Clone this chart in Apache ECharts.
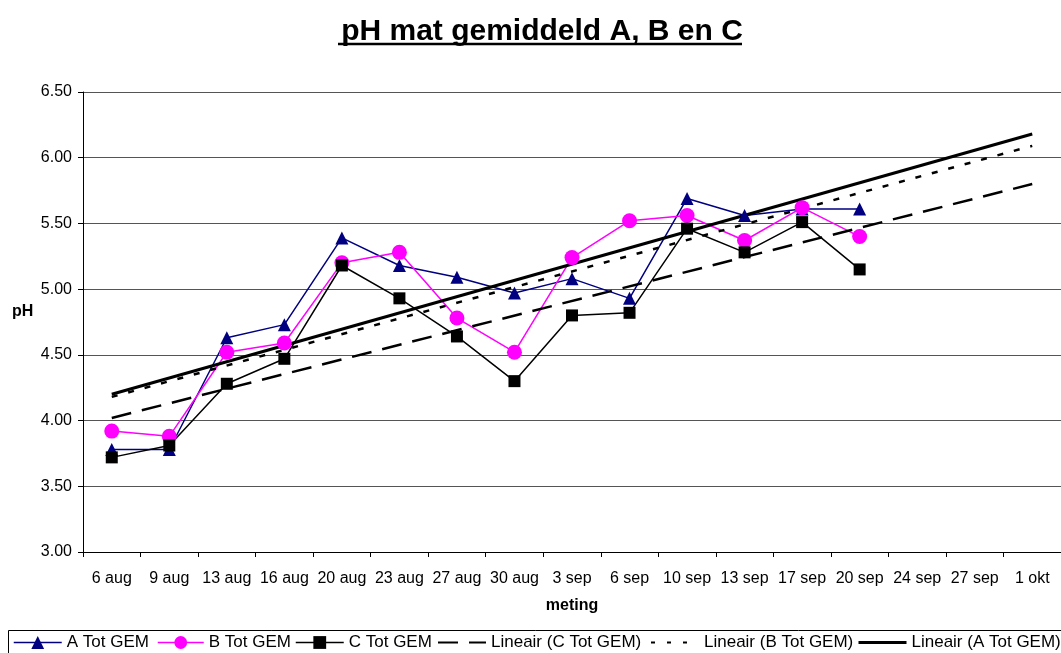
<!DOCTYPE html>
<html>
<head>
<meta charset="utf-8">
<script src="https://cdn.jsdelivr.net/npm/echarts@6/dist/echarts.min.js"></script>
<style>
  html, body { margin: 0; padding: 0; background: #fff; }
  #chart { width: 1061px; height: 653px; }
</style>
</head>
<body>
<div id="chart"></div>
<script>
// Measurement dates (category axis); the last three carry only the trend forecast
const categories = ['6 aug', '9 aug', '13 aug', '16 aug', '20 aug', '23 aug', '27 aug',
  '30 aug', '3 sep', '6 sep', '10 sep', '13 sep', '17 sep', '20 sep', '24 sep', '27 sep', '1 okt'];

// Average pH per sampling point
const seriesA = [3.78, 3.78, 4.63, 4.73, 5.39, 5.18, 5.09, 4.97, 5.08, 4.93, 5.69, 5.56, 5.61, 5.61];
const seriesB = [3.92, 3.88, 4.52, 4.59, 5.20, 5.28, 4.78, 4.52, 5.24, 5.52, 5.56, 5.37, 5.62, 5.40];
const seriesC = [3.72, 3.81, 4.28, 4.47, 5.18, 4.93, 4.64, 4.30, 4.80, 4.82, 5.46, 5.28, 5.51, 5.15];

// Linear trend values at the first and the last date
const trendA = [4.20, 6.18];
const trendB = [4.18, 6.09];
const trendC = [4.02, 5.80];

// Value axis range and step
const yMin = 3.0;
const yMax = 6.5;
const yStep = 0.5;

const FONT = "'Liberation Sans', Arial, sans-serif";

function trendData(ends) {
  return [[0, ends[0]], [categories.length - 1, ends[1]]];
}

function legendItem(name, left, itemWidth, lineStyle, opts) {
  opts = opts || {};
  return {
    data: [name],
    left: left,
    top: 634,
    padding: 0,
    itemWidth: itemWidth,
    itemHeight: 16,
    selectedMode: false,
    lineStyle: lineStyle,
    itemStyle: opts.hideSymbol ? { opacity: 0 } : {},
    textStyle: Object.assign({ color: '#000', fontSize: 17, fontFamily: FONT }, opts.text || {})
  };
}

const chart = echarts.init(document.getElementById('chart'), null, { renderer: 'canvas' });

chart.setOption({
  animation: false,
  backgroundColor: '#fff',
  title: {
    text: 'pH mat gemiddeld A, B en C',
    left: 537,
    textAlign: 'center',
    top: 12,
    textStyle: { fontFamily: FONT, fontSize: 30, fontWeight: 'bold', color: '#000' }
  },
  graphic: [
    { type: 'line', shape: { x1: 338, y1: 44, x2: 742, y2: 44 }, style: { stroke: '#000', lineWidth: 2.5 } },
    { type: 'rect', shape: { x: 8.5, y: 630.5, width: 1100, height: 60 }, style: { fill: 'none', stroke: '#000', lineWidth: 1 }, z: -1 },
    { type: 'text', left: 12, top: 304, style: { text: 'pH', font: "bold 16px 'Liberation Sans', Arial, sans-serif", fill: '#000' } }
  ],
  grid: { left: 83, top: 92, width: 989, height: 460 },
  legend: [
    legendItem('A Tot GEM', 13, 48, { width: 1.5 }),
    legendItem('B Tot GEM', 157, 46, { width: 1.5 }),
    legendItem('C Tot GEM', 295, 48, { width: 1.5 }),
    legendItem('Lineair (C Tot GEM)', 437, 48, { width: 2, type: [20, 11] }, { hideSymbol: true }),
    legendItem('Lineair (B Tot GEM)', 650, 36, { width: 2, type: [4, 12] }, { hideSymbol: true, text: { padding: [0, 0, 0, 12] } }),
    legendItem('Lineair (A Tot GEM)', 857, 48, { width: 3, type: 'solid' }, { hideSymbol: true })
  ],
  xAxis: {
    type: 'category',
    data: categories,
    boundaryGap: true,
    name: 'meting',
    nameLocation: 'middle',
    nameGap: 46,
    nameTextStyle: { fontFamily: FONT, fontSize: 16, fontWeight: 'bold', color: '#000' },
    axisLine: { lineStyle: { color: '#000', width: 1 } },
    axisTick: { show: true, length: 5, lineStyle: { color: '#000' } },
    axisLabel: { interval: 0, margin: 19, fontFamily: FONT, fontSize: 16, color: '#000' },
    splitLine: { show: false }
  },
  yAxis: {
    type: 'value',
    min: yMin,
    max: yMax,
    interval: yStep,
    axisLine: { show: true, lineStyle: { color: '#000', width: 1 } },
    axisTick: { show: true, length: 5, lineStyle: { color: '#000' } },
    axisLabel: { margin: 11, fontFamily: FONT, fontSize: 16, color: '#000', formatter: v => v.toFixed(2) },
    splitLine: { show: true, lineStyle: { color: '#555', width: 1 } }
  },
  series: [
    {
      name: 'A Tot GEM', type: 'line', data: seriesA,
      symbol: 'triangle', symbolSize: 13,
      lineStyle: { color: '#000080', width: 1.5 },
      itemStyle: { color: '#000080' }
    },
    {
      name: 'B Tot GEM', type: 'line', data: seriesB,
      symbol: 'circle', symbolSize: 15,
      lineStyle: { color: '#ff00ff', width: 1.5 },
      itemStyle: { color: '#ff00ff' }
    },
    {
      name: 'C Tot GEM', type: 'line', data: seriesC,
      symbol: 'rect', symbolSize: 12,
      lineStyle: { color: '#000', width: 1.5 },
      itemStyle: { color: '#000' }
    },
    {
      name: 'Lineair (C Tot GEM)', type: 'line', data: trendData(trendC),
      symbol: 'none', silent: true,
      lineStyle: { color: '#000', width: 2.5, type: [20, 11] },
      itemStyle: { color: '#000' }
    },
    {
      name: 'Lineair (B Tot GEM)', type: 'line', data: trendData(trendB),
      symbol: 'none', silent: true,
      lineStyle: { color: '#000', width: 2.5, type: [6, 11] },
      itemStyle: { color: '#000' }
    },
    {
      name: 'Lineair (A Tot GEM)', type: 'line', data: trendData(trendA),
      symbol: 'none', silent: true,
      lineStyle: { color: '#000', width: 3 },
      itemStyle: { color: '#000' }
    }
  ]
});
</script>
</body>
</html>
